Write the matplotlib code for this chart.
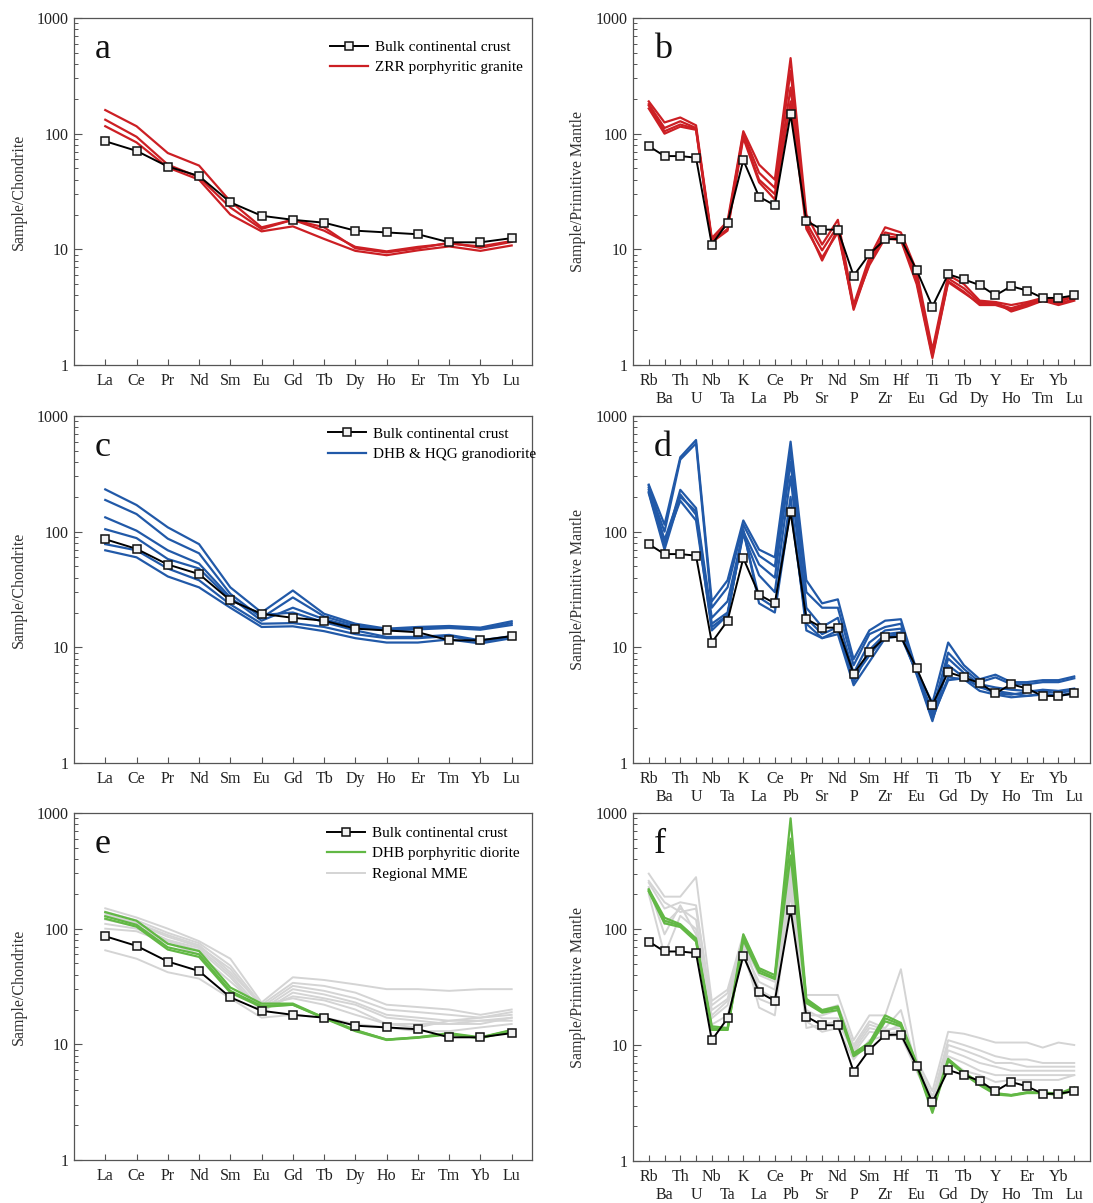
import matplotlib
matplotlib.use("Agg")
import matplotlib.pyplot as plt
from matplotlib.ticker import FixedLocator, FixedFormatter, NullFormatter, LogLocator

plt.rcParams['font.family'] = ['Liberation Serif', 'DejaVu Serif']

# element orders
ree = ["La", "Ce", "Pr", "Nd", "Sm", "Eu", "Gd", "Tb", "Dy", "Ho", "Er", "Tm", "Yb", "Lu"]
spider = ["Rb", "Ba", "Th", "U", "Nb", "Ta", "K", "La", "Ce", "Pb", "Pr", "Sr", "Nd", "P",
          "Sm", "Zr", "Hf", "Eu", "Ti", "Gd", "Tb", "Dy", "Y", "Ho", "Er", "Tm", "Yb", "Lu"]

# bulk continental crust
crust_ree = [86, 71, 52, 43, 25.5, 19.5, 18, 17, 14.5, 14, 13.5, 11.5, 11.5, 12.5]
crust_spider = [78, 64, 64, 62, 11, 17, 59, 28.5, 24, 147, 17.6, 14.8, 14.8, 5.9, 9.1, 12.2,
                12.3, 6.6, 3.2, 6.1, 5.5, 4.9, 4.0, 4.8, 4.4, 3.8, 3.8, 4.0]

# a: ZRR porphyritic granite (chondrite)
zrr_ree_1 = [160, 116, 68, 53, 26, 15.5, 18, 14.5, 10.5, 9.6, 10.5, 11.2, 10.6, 11.8]
zrr_ree_2 = [132, 94, 54, 42, 23, 15, 18, 15.5, 10.2, 9.4, 10.2, 11.4, 10.3, 11.6]
zrr_ree_3 = [116, 84, 51, 40, 20, 14.3, 15.8, 12.3, 9.7, 8.9, 9.8, 10.6, 9.7, 10.8]

# b: ZRR porphyritic granite (primitive mantle)
zrr_sp_1 = [190, 125, 138, 118, 12.5, 17.5, 105, 54, 40, 450, 20, 11, 18, 3.3, 8.5, 15.5,
            14, 6.5, 1.35, 6.0, 5.0, 3.6, 3.5, 3.3, 3.5, 3.8, 3.6, 4.0]
zrr_sp_2 = [180, 112, 128, 112, 12, 16.5, 100, 46, 34, 350, 17, 9.8, 16, 3.1, 8.0, 14,
            13, 5.8, 1.25, 5.6, 4.6, 3.5, 3.4, 3.1, 3.4, 3.7, 3.5, 3.9]
zrr_sp_3 = [175, 105, 120, 110, 11.8, 15, 96, 40, 30, 250, 16, 8.0, 15, 3.0, 7.6, 13,
            12.5, 5.3, 1.2, 5.3, 4.3, 3.3, 3.3, 3.0, 3.3, 3.6, 3.4, 3.7]
zrr_sp_4 = [165, 100, 115, 108, 11.5, 14.5, 92, 38, 27, 190, 15, 8.5, 14, 3.2, 7.3, 12.5,
            12, 5.0, 1.15, 5.2, 4.2, 3.4, 3.5, 2.9, 3.2, 3.6, 3.3, 3.6]

# c: DHB & HQG granodiorite (chondrite)
gd_ree_1 = [232, 170, 109, 78, 33, 20, 31, 19.5, 16, 14.5, 15, 15.3, 14.8, 16.8]
gd_ree_2 = [188, 142, 87, 65, 29, 18, 27, 18.5, 15.5, 14.2, 14.6, 15, 14.4, 16.2]
gd_ree_3 = [133, 102, 69, 53, 27, 17, 22, 17.5, 15, 14, 14.3, 14.7, 14.2, 15.6]
gd_ree_4 = [105, 88, 58, 48, 26, 19, 20, 16.5, 14, 12.3, 12.3, 12.8, 11.5, 12.5]
gd_ree_5 = [78, 69, 48, 38, 23.5, 16, 16.2, 15, 13, 12, 12, 12.5, 11.2, 12.3]
gd_ree_6 = [69, 60, 41, 33, 22, 15, 15.2, 13.8, 12, 11, 11, 11.7, 10.8, 12]

# d: DHB & HQG granodiorite (primitive mantle)
gd_sp_1 = [255, 115, 440, 620, 25, 38, 125, 70, 60, 600, 38, 24, 26, 7.9, 14, 17, 17.5,
           6.3, 3.3, 11, 7, 5.3, 5.8, 5.0, 5.0, 5.2, 5.2, 5.6]
gd_sp_2 = [240, 100, 420, 580, 22, 33, 115, 62, 50, 500, 30, 22, 22, 7.0, 13, 15, 16,
           6.1, 2.8, 9, 6.5, 5.0, 5.5, 4.8, 4.8, 5.0, 5.0, 5.4]
gd_sp_3 = [220, 75, 230, 160, 18, 25, 100, 52, 40, 400, 22, 15, 18, 6.0, 11, 14, 14.5,
           6.0, 2.6, 8, 6.0, 4.8, 4.5, 4.3, 4.2, 4.2, 4.0, 4.3]
gd_sp_4 = [215, 70, 200, 150, 16, 20, 95, 42, 30, 300, 18, 13, 15, 5.0, 9.5, 13, 13.5,
           5.8, 2.3, 7, 5.5, 4.5, 4.2, 4.0, 3.8, 4.0, 3.8, 4.1]
gd_sp_5 = [230, 80, 185, 125, 15, 19, 100, 27, 22, 200, 14, 12, 13, 4.7, 7.5, 12, 12.5,
           6.0, 2.4, 5.5, 5.3, 4.2, 3.9, 3.7, 3.8, 3.9, 3.8, 4.0]
gd_sp_6 = [250, 85, 210, 140, 14, 19, 105, 24, 20, 160, 16, 12, 14, 5.5, 8.5, 12.5, 13,
           6.0, 2.5, 5.2, 5.4, 4.6, 4.0, 3.9, 4.1, 4.3, 4.2, 4.4]

# e: DHB porphyritic diorite and regional MME (chondrite)
di_ree_1 = [139, 117, 74, 64, 31, 22.5, 22.5, 17, 13.3, 11, 11.5, 12.5, 11.5, 13.3]
di_ree_2 = [128, 108, 69, 60, 29, 21.5, 22, 17, 13.2, 11, 11.5, 12.3, 11.4, 13.2]
di_ree_3 = [122, 104, 66, 57, 28, 21, 22, 16.8, 13, 10.9, 11.4, 12.2, 11.3, 13]
mme_ree_1 = [150, 125, 100, 78, 55, 23, 38, 36, 33, 30, 30, 29, 30, 30]
mme_ree_2 = [140, 118, 92, 75, 48, 22, 34, 32, 28, 22, 21, 20, 18, 20]
mme_ree_3 = [130, 110, 85, 70, 45, 21, 32, 29, 25, 20, 19, 18, 17, 19]
mme_ree_4 = [120, 105, 80, 68, 40, 20, 30, 27, 23, 18, 17, 16, 16, 17]
mme_ree_5 = [110, 100, 78, 65, 38, 19, 28, 25, 22, 17, 16, 15, 15, 17]
mme_ree_6 = [100, 95, 75, 60, 35, 20, 26, 24, 20, 15, 15, 15, 16, 16]
mme_ree_7 = [135, 112, 88, 72, 42, 22, 25, 22, 18, 15, 14, 16, 17, 18]
mme_ree_8 = [65, 55, 42, 37, 25, 17, 18, 17, 15, 14, 13, 13, 14, 15]

# f: DHB porphyritic diorite and regional MME (primitive mantle)
di_sp_1 = [220, 125, 110, 83, 14.5, 14, 90, 46, 40, 900, 25, 20, 21.5, 8.5, 10.5, 18,
           15.5, 7, 2.8, 7.6, 5.8, 4.7, 3.85, 3.7, 3.9, 3.9, 3.8, 4.3]
di_sp_2 = [215, 118, 107, 80, 14, 13.5, 85, 44, 38, 600, 24, 19.5, 21, 8.2, 10, 17,
           15, 6.7, 2.7, 7.4, 5.7, 4.6, 3.8, 3.7, 3.9, 3.9, 3.75, 4.2]
di_sp_3 = [210, 112, 104, 78, 13.5, 13.5, 80, 42, 37, 430, 23, 19, 20, 8, 9.8, 16,
           14.5, 6.5, 2.6, 7.3, 5.6, 4.5, 3.75, 3.65, 3.85, 3.85, 3.7, 4.1]
mme_sp_1 = [300, 190, 190, 280, 24, 30, 90, 45, 40, 350, 27, 27, 27, 11, 18, 18, 45,
            7.5, 4.0, 13, 12.5, 11.5, 10.5, 10.5, 10.5, 9.5, 10.5, 10]
mme_sp_2 = [250, 150, 170, 160, 20, 25, 75, 40, 35, 300, 25, 20, 22, 10, 16, 14, 20,
            6.5, 3.5, 11, 10, 9, 8, 7.5, 7.5, 7, 7, 7]
mme_sp_3 = [220, 110, 150, 120, 17, 22, 65, 35, 30, 250, 20, 17, 17, 9, 14, 13, 15,
            6, 3.2, 10, 9, 8, 7, 7, 6.5, 6.5, 6.5, 6.5]
mme_sp_4 = [200, 60, 130, 100, 15, 18, 60, 25, 22, 200, 16, 13, 14, 7.5, 11, 12, 12,
            6, 3.0, 9, 8, 7, 6.5, 6, 6, 6, 6, 6]
mme_sp_5 = [230, 90, 160, 90, 18, 24, 70, 21, 18, 220, 14, 15, 16, 8.5, 13, 12.5, 13,
            6.5, 3.3, 8, 7, 6, 5.5, 5.5, 5.5, 5.5, 5.5, 5.5]
mme_sp_6 = [260, 170, 140, 150, 22, 28, 80, 30, 25, 280, 18, 18, 20, 9.5, 15, 13.5, 14,
            7, 3.6, 7.5, 6, 5.5, 4.8, 5, 5, 5, 5, 5.5]

RED = "#cc1f24"
BLUE = "#2159a8"
GREEN = "#62b845"
GRAY = "#d4d4d4"
FRAME = "#555555"

fig = plt.figure(figsize=(10.93, 12.03), dpi=100)
W, H = 1093, 1203


def make_ax(left, top, right, bottom):
    return fig.add_axes([left / W, 1 - bottom / H, (right - left) / W, (bottom - top) / H])


def setup(ax, names, ylabel, letter, spider_style):
    n = len(names)
    ax.set_yscale('log')
    ax.set_ylim(1, 1000)
    if spider_style:
        ax.set_xlim(-1, n)
        ev = list(range(0, n, 2))
        od = list(range(1, n, 2))
        ax.set_xticks(ev)
        ax.set_xticklabels([names[i] for i in ev], fontsize=11.5)
        ax.set_xticks(od, minor=True)
        ax.set_xticklabels([names[i] for i in od], minor=True, fontsize=11.5)
        ax.tick_params(axis='x', which='minor', direction='in', length=4, width=0.8,
                       colors=FRAME, labelcolor='#222222', pad=19)
    else:
        ax.set_xlim(-1, n - 1 + 0.65)
        ax.set_xticks(range(n))
        ax.set_xticklabels(names, fontsize=11.5)
    ax.yaxis.set_major_locator(FixedLocator([1, 10, 100, 1000]))
    ax.yaxis.set_major_formatter(FixedFormatter(["1", "10", "100", "1000"]))
    ax.yaxis.set_minor_locator(LogLocator(base=10, subs=range(2, 10)))
    ax.yaxis.set_minor_formatter(NullFormatter())
    ax.tick_params(axis='y', which='major', direction='in', length=6, width=0.8,
                   colors=FRAME, labelcolor='#222222', labelsize=11.5, pad=4)
    ax.tick_params(axis='y', which='minor', direction='in', length=3, width=0.7, colors=FRAME)
    ax.tick_params(axis='x', which='major', direction='in', length=4, width=0.8,
                   colors=FRAME, labelcolor='#222222', pad=6)
    for s in ax.spines.values():
        s.set_color(FRAME)
        s.set_linewidth(0.9)
    ax.set_ylabel(ylabel, fontsize=11.5, color='#333333', labelpad=7)
    ax.text(0.045, 0.91, letter, transform=ax.transAxes, fontsize=26, va='center',
            ha='left', color='#111111')


def crust(ax, vals):
    ax.plot(range(len(vals)), vals, color='black', lw=1.4, marker='s', ms=5.5,
            mfc='#f2f2f2', mec='#111111', mew=1.1, zorder=5,
            label="Bulk continental crust")


def legend(ax, x0, y0):
    ax.legend(loc='upper left', bbox_to_anchor=(x0, y0), frameon=False, fontsize=11,
              handlelength=2.5, labelspacing=0.45, borderaxespad=0, borderpad=0,
              handletextpad=0.45)


# a
ax = make_ax(74, 18, 532, 365)
crust(ax, crust_ree)
for i, v in enumerate([zrr_ree_1, zrr_ree_2, zrr_ree_3]):
    ax.plot(range(len(ree)), v, color=RED, lw=1.6, zorder=3,
            label="ZRR porphyritic granite" if i == 0 else None)
setup(ax, ree, "Sample/Chondrite", "a", False)
legend(ax, 0.558, 0.936)

# b
ax = make_ax(633, 18, 1090, 365)
for v in [zrr_sp_1, zrr_sp_2, zrr_sp_3, zrr_sp_4]:
    ax.plot(range(len(spider)), v, color=RED, lw=1.6, zorder=3)
crust(ax, crust_spider)
setup(ax, spider, "Sample/Primitive Mantle", "b", True)

# c
ax = make_ax(74, 416, 532, 763)
crust(ax, crust_ree)
for i, v in enumerate([gd_ree_1, gd_ree_2, gd_ree_3, gd_ree_4, gd_ree_5, gd_ree_6]):
    ax.plot(range(len(ree)), v, color=BLUE, lw=1.6, zorder=3,
            label="DHB & HQG granodiorite" if i == 0 else None)
setup(ax, ree, "Sample/Chondrite", "c", False)
legend(ax, 0.555, 0.968)

# d
ax = make_ax(633, 416, 1090, 763)
for v in [gd_sp_1, gd_sp_2, gd_sp_3, gd_sp_4, gd_sp_5, gd_sp_6]:
    ax.plot(range(len(spider)), v, color=BLUE, lw=1.6, zorder=3)
crust(ax, crust_spider)
setup(ax, spider, "Sample/Primitive Mantle", "d", True)

# e
ax = make_ax(74, 813, 532, 1160)
crust(ax, crust_ree)
for i, v in enumerate([di_ree_1, di_ree_2, di_ree_3]):
    ax.plot(range(len(ree)), v, color=GREEN, lw=1.6, zorder=4,
            label="DHB porphyritic diorite" if i == 0 else None)
for i, v in enumerate([mme_ree_1, mme_ree_2, mme_ree_3, mme_ree_4, mme_ree_5,
                       mme_ree_6, mme_ree_7, mme_ree_8]):
    ax.plot(range(len(ree)), v, color=GRAY, lw=1.4, zorder=2,
            label="Regional MME" if i == 0 else None)
setup(ax, ree, "Sample/Chondrite", "e", False)
legend(ax, 0.553, 0.962)

# f
ax = make_ax(633, 813, 1090, 1161)
for v in [mme_sp_1, mme_sp_2, mme_sp_3, mme_sp_4, mme_sp_5, mme_sp_6]:
    ax.plot(range(len(spider)), v, color=GRAY, lw=1.4, zorder=2)
for v in [di_sp_1, di_sp_2, di_sp_3]:
    ax.plot(range(len(spider)), v, color=GREEN, lw=1.6, zorder=4)
crust(ax, crust_spider)
setup(ax, spider, "Sample/Primitive Mantle", "f", True)

fig.savefig("out.png", dpi=100)
